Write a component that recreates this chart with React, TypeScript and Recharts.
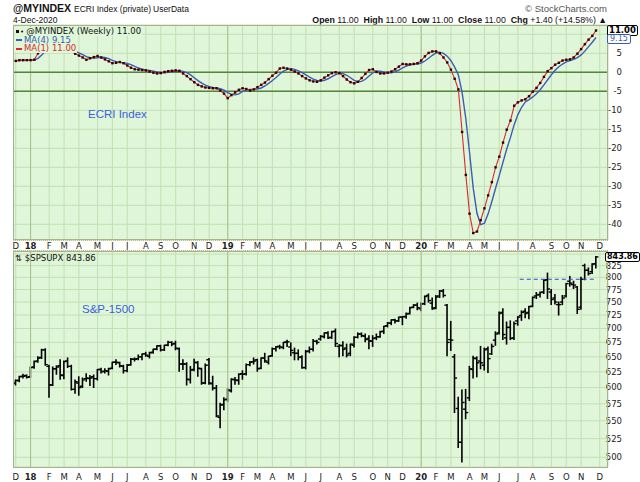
import React from 'react';
import {
  ComposedChart,
  Line,
  Bar,
  XAxis,
  YAxis,
  CartesianGrid,
  ReferenceLine,
} from 'recharts';

// weekly bars, first one is the week ending Fri 8-Dec-2017
const FIRST_FRIDAY = Date.UTC(2017, 11, 8);
const DAY = 86400000;
const MONTH_LETTERS = ['J', 'F', 'M', 'A', 'M', 'J', 'J', 'A', 'S', 'O', 'N', 'D'];

// ECRI weekly growth (MA(1))
const ecriValues = [
  3.0, 3.2, 3.2, 3.2, 3.2, 3.3, 5.0, 6.6, 7.4, 7.3, 7.0, 6.6, 6.3, 6.0, 5.7, 5.4, 4.9, 4.4, 3.9, 3.3,
  3.7, 4.0, 4.3, 3.9, 3.4, 2.9, 2.4, 2.5, 2.7, 2.4, 1.8, 1.2, 0.8, 0.7, 0.6, 0.5, 0.2, -0.1, -0.3, -0.2,
  0.1, 0.3, 0.4, 0.5, 0.4, -0.3, -1.0, -1.8, -2.6, -3.3, -3.7, -4.0, -4.1, -4.2, -4.2, -4.8, -5.6, -6.8, -6.0, -5.3,
  -4.6, -4.2, -4.4, -4.8, -4.5, -3.9, -3.3, -2.7, -1.8, -0.9, -0.1, 1.0, 1.2, 1.0, 0.7, 0.2, -0.3, -1.0, -1.6, -2.1,
  -2.4, -2.5, -2.1, -1.4, -0.8, -0.2, 0.0, -0.2, -1.0, -1.9, -2.6, -2.9, -2.5, -1.5, -0.4, 0.6, 0.8, 0.1, -0.3, -0.3,
  -0.1, 0.2, 0.8, 1.5, 2.2, 2.1, 2.1, 2.2, 2.4, 3.1, 4.2, 5.1, 5.5, 5.5, 5.0, 3.9, 2.6, 0.7, -1.7, -4.5,
  -15.7, -27.0, -37.2, -42.3, -41.9, -38.9, -35.8, -32.4, -28.9, -25.0, -22.2, -18.5, -15.1, -12.7, -8.8, -7.9, -7.4, -7.1, -6.3, -5.1,
  -4.1, -2.8, -1.2, 0.3, 1.1, 2.0, 2.5, 3.1, 3.3, 3.4, 3.9, 4.9, 6.1, 7.4, 8.6, 9.6, 11.0,
];

// $SPSUPX weekly OHLC
const spxOpen = [
  607, 611, 618, 619, 617, 633, 643, 649, 662, 634, 604, 630, 635, 619, 643, 634, 597, 607, 602, 614,
  614, 617, 614, 629, 626, 626, 631, 641, 640, 634, 627, 637, 646, 647, 650, 655, 651, 658, 663, 669,
  662, 670, 675, 673, 664, 638, 638, 612, 629, 640, 630, 607, 645, 606, 599, 555,
  574, 582, 595, 612, 611, 622, 622, 637, 642, 645, 631, 648, 641, 652, 664, 668, 666, 676, 667, 657,
  656, 650, 632, 660, 663, 677, 681, 685, 692, 684, 695, 668, 669, 665, 656, 670, 684, 690, 686, 682,
  677, 683, 685, 695, 705, 710, 716, 714, 721, 722, 728, 740,
  744, 737, 747, 763, 748, 739, 762, 772, 744, 680, 650, 568, 520, 567, 584, 629, 647, 643, 636, 664,
  655, 679, 692, 730, 683, 702, 683, 714, 724, 732, 730, 742, 762, 765, 770, 795, 770, 758, 745, 750,
  762, 792, 785, 780, 740, 825, 815, 812, 829,
];
const spxHigh = [
  612, 618, 621, 620, 633, 643, 650, 663, 664, 636, 633, 635, 645, 643, 648, 636, 612, 617, 615, 622,
  619, 620, 629, 631, 630, 631, 641, 645, 641, 636, 637, 647, 648, 653, 655, 658, 658, 663, 669, 670,
  670, 677, 676, 677, 665, 645, 640, 634, 646, 642, 631, 638, 647, 618, 603, 576,
  584, 598, 614, 616, 622, 627, 638, 642, 648, 646, 648, 656, 651, 665, 668, 670, 675, 679, 674, 665,
  662, 652, 661, 667, 680, 679, 687, 692, 694, 695, 699, 671, 676, 672, 672, 685, 692, 692, 690, 687,
  687, 690, 695, 704, 711, 716, 717, 721, 722, 729, 740, 745,
  748, 748, 762, 766, 758, 763, 773, 775, 745, 713, 654, 585, 596, 597, 634, 651, 650, 668, 665, 667,
  672, 694, 731, 737, 712, 714, 712, 722, 733, 737, 742, 760, 769, 770, 795, 809, 775, 765, 750, 763,
  787, 802, 792, 781, 800, 828, 820, 829, 845,
];
const spxLow = [
  604, 609, 615, 615, 616, 631, 641, 647, 636, 585, 603, 621, 613, 614, 632, 596, 591, 588, 600, 610,
  603, 600, 612, 623, 623, 620, 630, 637, 633, 623, 625, 636, 643, 645, 645, 651, 648, 656, 662, 660,
  661, 669, 669, 662, 626, 629, 604, 607, 627, 618, 605, 606, 605, 596, 556, 540,
  566, 579, 593, 605, 605, 613, 620, 635, 638, 626, 630, 641, 638, 651, 660, 664, 664, 668, 652, 645,
  645, 631, 630, 657, 660, 672, 679, 683, 682, 682, 668, 650, 652, 650, 652, 667, 683, 685, 676, 664,
  668, 680, 684, 691, 703, 707, 710, 713, 707, 719, 727, 739,
  735, 733, 745, 750, 736, 737, 759, 760, 652, 661, 562, 513, 494, 553, 580, 615, 617, 630, 628, 624,
  654, 670, 690, 680, 672, 680, 680, 706, 715, 720, 718, 741, 757, 760, 767, 757, 745, 746, 725, 745,
  760, 782, 777, 728, 736, 795, 805, 808, 820,
];
const spxClose = [
  611, 617, 618, 616, 632, 642, 648, 662, 637, 604, 630, 633, 620, 642, 634, 597, 609, 600, 612, 615,
  615, 614, 629, 625, 627, 630, 641, 641, 635, 627, 636, 646, 646, 650, 655, 653, 657, 663, 669, 662,
  670, 675, 672, 665, 638, 638, 613, 628, 641, 631, 607, 636, 607, 599, 557, 573,
  581, 596, 613, 612, 621, 621, 637, 641, 643, 630, 648, 643, 651, 664, 667, 667, 675, 676, 661, 656,
  649, 632, 659, 663, 677, 675, 686, 692, 683, 694, 673, 670, 663, 653, 672, 684, 690, 687, 680, 678,
  682, 685, 694, 704, 710, 716, 714, 721, 722, 727, 739, 744,
  739, 746, 761, 753, 737, 760, 772, 763, 675, 679, 615, 520, 577, 562, 630, 648, 640, 640, 662, 647,
  668, 690, 728, 689, 702, 682, 709, 721, 730, 728, 741, 759, 764, 769, 794, 776, 755, 750, 745, 758,
  787, 788, 784, 736, 796, 815, 808, 828, 843.86,
];

const ecriTicks = [-40, -35, -30, -25, -20, -15, -10, -5, 0, 5, 10];
const spxTicks = [500, 525, 550, 575, 600, 625, 650, 675, 700, 725, 750, 775, 800, 825, 850];

const ECRI_LAST = '11.00';
const MA4_LAST = '9.15';
const SPX_LAST = '843.86';
const BREAKOUT_LEVEL = 796;
const BREAKOUT_FROM = 135.5;

const BG = '#dff6d8';
const GRID = '#c4dfb5';
const YEAR_GRID = '#a9bf8f';
const ZERO_LINE = '#55843f';
const RED = '#d9272e';
const BLUE = '#3b5cb5';
const NOTE_BLUE = '#3c5fe0';
const FONT = 'DejaVu Sans, Verdana, sans-serif';
const ARIAL = 'Liberation Sans, Arial, sans-serif';

// month gridlines fall on the first week whose Monday is in the new month
const monthTicks: { i: number; label: string; year: boolean }[] = [];
let prevMonth = -1;
for (let i = 0; i < 160; i++) {
  const monday = new Date(FIRST_FRIDAY + (i * 7 - 4) * DAY);
  const m = monday.getUTCMonth();
  if (m !== prevMonth) {
    monthTicks.push({
      i,
      label: m === 0 ? String(monday.getUTCFullYear()).slice(2) : MONTH_LETTERS[m],
      year: m === 0,
    });
    prevMonth = m;
  }
}
const yearTicks = monthTicks.filter((t) => t.year);
const X_DOMAIN: [number, number] = [-0.59, 159.22];

const rows = ecriValues.map((v, i) => {
  const win = ecriValues.slice(Math.max(0, i - 3), i + 1);
  return {
    i,
    ecri: v,
    ma4: win.reduce((a, b) => a + b, 0) / win.length,
    range: [spxLow[i], spxHigh[i]],
    open: spxOpen[i],
    high: spxHigh[i],
    low: spxLow[i],
    close: spxClose[i],
  };
});

const MonthTick = (props: any) => {
  const { x, y, payload, dy } = props;
  const t = monthTicks.find((m) => m.i === payload.value);
  if (!t) return null;
  return (
    <text
      x={x}
      y={y + dy}
      textAnchor="middle"
      fontSize={8.5}
      fontFamily={FONT}
      fontWeight={t.year ? 'bold' : 'normal'}
      fill="#222"
    >
      {t.label}
    </text>
  );
};

const ValueTick = (props: any) => {
  const { x, y, payload, skip } = props;
  if (payload.value === skip) return null;
  return (
    <text x={x + 14} y={y + 3} textAnchor="end" fontSize={8.5} fontFamily={FONT} fill="#222">
      {payload.value}
    </text>
  );
};

const EcriDot = (props: any) => {
  const { cx, cy, index } = props;
  if (cx == null || cy == null) return null;
  return <rect key={`d-${index}`} x={cx - 1.2} y={cy - 1.2} width={2.4} height={2.4} fill="#2b0606" />;
};

const OhlcShape = (props: any) => {
  const { x, y, width, height, payload } = props;
  const top = Math.min(y, y + height);
  const bottom = Math.max(y, y + height);
  const cx = x + width / 2;
  const lh = Math.log(payload.high);
  const ll = Math.log(payload.low);
  const span = lh - ll || 1;
  const pos = (v: number) => top + ((bottom - top) * (lh - Math.log(v))) / span;
  const yo = pos(payload.open);
  const yc = pos(payload.close);
  return (
    <g stroke="#000" strokeWidth={1.6}>
      <line x1={cx} x2={cx} y1={top - 0.5} y2={bottom + 0.5} />
      <line x1={cx - 2.6} x2={cx} y1={yo} y2={yo} strokeWidth={1.4} />
      <line x1={cx} x2={cx + 2.6} y1={yc} y2={yc} strokeWidth={1.4} />
    </g>
  );
};

const abs = (left: number, top: number, extra: React.CSSProperties = {}): React.CSSProperties => ({
  position: 'absolute',
  left,
  top,
  whiteSpace: 'nowrap',
  lineHeight: 1,
  ...extra,
});

export default function App() {
  return (
    <div style={{ position: 'absolute', left: 0, top: 0, width: 640, height: 482, background: '#fff', overflow: 'hidden' }}>
      {/* header */}
      <div style={abs(13, 3, { fontFamily: ARIAL, fontSize: 10.5, fontWeight: 'bold', color: '#111' })}>@MYINDEX</div>
      <div style={abs(74, 4.5, { fontFamily: ARIAL, fontSize: 8.5, color: '#111' })}>ECRI Index (private)</div>
      <div style={abs(153, 4.5, { fontFamily: ARIAL, fontSize: 8.5, color: '#111' })}>UserData</div>
      <div style={abs(13, 16, { fontFamily: ARIAL, fontSize: 8.5, color: '#111' })}>4-Dec-2020</div>
      <div style={abs(0, 4, { width: 607, textAlign: 'right', fontFamily: ARIAL, fontSize: 9.5, color: '#555' })}>
        © StockCharts.com
      </div>
      <div style={abs(0, 15.5, { width: 607, textAlign: 'right', fontFamily: ARIAL, fontSize: 8.8, color: '#111' })}>
        <b>Open</b> 11.00&nbsp; <b>High</b> 11.00&nbsp; <b>Low</b> 11.00&nbsp; <b>Close</b> 11.00&nbsp; <b>Chg</b> +1.40 (+14.58%) ▲
      </div>

      {/* ECRI panel */}
      <div style={{ position: 'absolute', left: 0, top: 0 }}>
        <ComposedChart width={640} height={250} data={rows} margin={{ top: 25, right: 0, bottom: 0, left: 13.5 }}>
          <CartesianGrid fill={BG} stroke={GRID} strokeWidth={1} />
          <XAxis
            type="number"
            dataKey="i"
            domain={X_DOMAIN}
            allowDataOverflow
            ticks={monthTicks.map((t) => t.i)}
            interval={0}
            height={10}
            axisLine={false}
            tickLine={false}
            tickSize={0}
            tickMargin={0}
            tick={<MonthTick dy={8.5} />}
          />
          <YAxis
            orientation="right"
            type="number"
            width={32}
            domain={[-44.13, 12.45]}
            allowDataOverflow
            ticks={ecriTicks}
            interval={0}
            axisLine={false}
            tickLine={false}
            tickSize={0}
            tickMargin={0}
            tick={<ValueTick skip={10} />}
          />
          {yearTicks.map((t) => (
            <ReferenceLine key={`y${t.i}`} x={t.i} stroke={YEAR_GRID} strokeWidth={1} />
          ))}
          <ReferenceLine y={0} stroke={ZERO_LINE} strokeWidth={1.5} />
          <ReferenceLine y={-5} stroke={ZERO_LINE} strokeWidth={1.5} />
          <Line dataKey="ma4" stroke={BLUE} strokeWidth={1.4} dot={false} isAnimationActive={false} />
          <Line dataKey="ecri" stroke={RED} strokeWidth={1.1} dot={EcriDot} isAnimationActive={false} />
        </ComposedChart>
      </div>

      {/* S&P-1500 panel */}
      <div style={{ position: 'absolute', left: 0, top: 250 }}>
        <ComposedChart width={640} height={232} data={rows} margin={{ top: 1, right: 0, bottom: 0, left: 13.5 }}>
          <CartesianGrid fill={BG} stroke={GRID} strokeWidth={1} />
          <XAxis
            type="number"
            dataKey="i"
            domain={X_DOMAIN}
            allowDataOverflow
            ticks={monthTicks.map((t) => t.i)}
            interval={0}
            height={15}
            axisLine={false}
            tickLine={false}
            tickSize={0}
            tickMargin={0}
            tick={<MonthTick dy={12.5} />}
          />
          <YAxis
            orientation="right"
            type="number"
            scale="log"
            width={32}
            domain={[487.5, 857]}
            allowDataOverflow
            ticks={spxTicks}
            interval={0}
            axisLine={false}
            tickLine={false}
            tickSize={0}
            tickMargin={0}
            tick={<ValueTick skip={850} />}
          />
          {yearTicks.map((t) => (
            <ReferenceLine key={`y${t.i}`} x={t.i} stroke={YEAR_GRID} strokeWidth={1} />
          ))}
          <Bar dataKey="range" barSize={5} shape={<OhlcShape />} isAnimationActive={false} />
          <ReferenceLine
            segment={[
              { x: BREAKOUT_FROM, y: BREAKOUT_LEVEL },
              { x: 156, y: BREAKOUT_LEVEL },
            ]}
            stroke="#2a48e0"
            strokeWidth={1.2}
            strokeDasharray="4 3"
          />
        </ComposedChart>
      </div>

      {/* panel frames and axis band */}
      <div style={abs(13, 24.5, { width: 595, height: 215, border: '1px solid #a7b38f', boxSizing: 'border-box' })} />
      <div style={abs(13, 250.5, { width: 595, height: 217, border: '1px solid #a7b38f', boxSizing: 'border-box' })} />
      <div style={abs(13, 240, { width: 595, height: 11, borderTop: '1px dotted #c9b98a', borderBottom: '1px dotted #c9b98a', boxSizing: 'border-box' })} />

      {/* in-panel legend, ECRI */}
      <div style={abs(15, 27, { fontFamily: FONT, fontSize: 8.5, color: '#111', background: BG, padding: '0 1px' })}>
        <span style={{ display: 'inline-block', width: 3, height: 3, background: '#111', marginRight: 1, verticalAlign: 'middle' }} />
        <span style={{ fontSize: 7 }}>• </span>@MYINDEX (Weekly) {ECRI_LAST}
      </div>
      <div style={abs(15, 35.5, { fontFamily: FONT, fontSize: 8.5, color: BLUE, background: BG, padding: '0 1px' })}>
        <span style={{ display: 'inline-block', width: 6, height: 2, background: BLUE, marginRight: 2, verticalAlign: 'middle' }} />
        MA(4) {MA4_LAST}
      </div>
      <div style={abs(15, 44, { fontFamily: FONT, fontSize: 8.5, color: RED, background: BG, padding: '0 1px' })}>
        <span style={{ display: 'inline-block', width: 6, height: 2, background: RED, marginRight: 2, verticalAlign: 'middle' }} />
        MA(1) {ECRI_LAST}
      </div>
      <div style={abs(88, 109, { fontFamily: ARIAL, fontSize: 11.5, color: NOTE_BLUE })}>ECRI Index</div>

      {/* in-panel legend, S&P */}
      <div style={abs(15, 253.5, { fontFamily: FONT, fontSize: 8.5, color: '#111' })}>⇅ $SPSUPX {SPX_LAST}</div>
      <div style={abs(82, 304, { fontFamily: ARIAL, fontSize: 11.5, color: NOTE_BLUE })}>S&amp;P-1500</div>

      {/* last-value boxes on the right axis */}
      <div style={abs(607, 25, { fontFamily: FONT, fontSize: 8.5, fontWeight: 'bold', color: '#000', background: '#fff', border: '1px solid #000', borderRadius: 2, padding: '0 1px' })}>
        {ECRI_LAST}
      </div>
      <div style={abs(607, 34, { fontFamily: FONT, fontSize: 8, color: BLUE, background: '#fff', border: `1px solid ${BLUE}`, borderRadius: 2, padding: '0 2px' })}>
        {MA4_LAST}
      </div>
      <div style={abs(605, 252, { fontFamily: FONT, fontSize: 8, fontWeight: 'bold', color: '#000', background: '#fff', border: '1px solid #000', borderRadius: 2, padding: '0 1px' })}>
        {SPX_LAST}
      </div>
    </div>
  );
}
